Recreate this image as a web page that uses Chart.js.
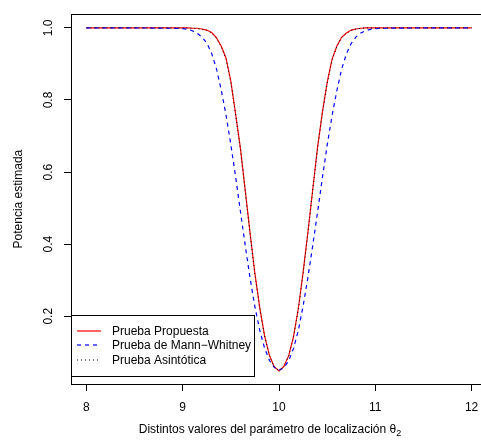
<!DOCTYPE html>
<html>
<head>
<meta charset="utf-8">
<script src="https://cdn.jsdelivr.net/npm/chart.js@4.4.0/dist/chart.umd.min.js"></script>
<style>
  html, body { margin: 0; padding: 0; overflow: hidden; background: #fff; }
  #contenedor { width: 500px; height: 442px; }
</style>
</head>
<body>
<div id="contenedor"><canvas id="potencia" width="500" height="442"></canvas></div>
<script>
// valores de theta_2 (eje x)
var theta = [8, 8.5, 8.9,
  9.00, 9.05, 9.10, 9.15, 9.20, 9.25, 9.30, 9.35, 9.40, 9.45, 9.50, 9.55, 9.60, 9.65, 9.70, 9.75, 9.80, 9.85, 9.90, 9.95, 10.00,
  10.05, 10.10, 10.15, 10.20, 10.25, 10.30, 10.35, 10.40, 10.45, 10.50, 10.55, 10.60, 10.65, 10.70, 10.75, 10.80, 10.85, 10.90, 10.95, 11.00,
  11.1, 11.5, 12];

// potencia estimada de cada prueba
var propuesta = [1, 1, 1,
  1.000, 1.000, 0.999, 0.999, 0.997, 0.994, 0.987, 0.973, 0.950, 0.916, 0.852, 0.760, 0.665, 0.548, 0.430, 0.318, 0.224, 0.146, 0.092, 0.060, 0.048,
  0.061, 0.090, 0.143, 0.220, 0.321, 0.433, 0.551, 0.668, 0.765, 0.848, 0.912, 0.949, 0.974, 0.986, 0.994, 0.997, 0.999, 1.000, 1.000, 1.000,
  1, 1, 1];

var mannWhitney = [1, 1, 0.999,
  0.998, 0.996, 0.992, 0.985, 0.975, 0.958, 0.930, 0.887, 0.828, 0.758, 0.676, 0.586, 0.490, 0.395, 0.305, 0.226, 0.161, 0.112, 0.078, 0.058, 0.050,
  0.057, 0.076, 0.110, 0.160, 0.228, 0.307, 0.396, 0.488, 0.583, 0.674, 0.755, 0.825, 0.885, 0.928, 0.957, 0.975, 0.986, 0.992, 0.996, 0.998,
  0.999, 1, 1];

var asintotica = [1, 1, 1,
  1.000, 1.000, 0.999, 0.998, 0.996, 0.993, 0.986, 0.972, 0.948, 0.913, 0.849, 0.757, 0.661, 0.545, 0.428, 0.316, 0.222, 0.145, 0.091, 0.059, 0.050,
  0.060, 0.089, 0.141, 0.218, 0.318, 0.430, 0.548, 0.664, 0.762, 0.846, 0.910, 0.948, 0.973, 0.985, 0.993, 0.997, 0.999, 1.000, 1.000, 1.000,
  1, 1, 1];

var etiquetas = ["Prueba Propuesta", "Prueba de Mann\u2212Whitney", "Prueba Asint\u00f3tica"];
var colores = ['#ff0000', '#0000ff', '#000000'];
var guiones = [[], [4, 4], [1, 3]];
var xTicks = [8, 9, 10, 11, 12];
var yTicks = [0.2, 0.4, 0.6, 0.8, 1.0];

var fuente = "'Liberation Sans', Arial, Helvetica, sans-serif";

function puntos(valores) {
  return theta.map(function (x, i) { return { x: x, y: valores[i] }; });
}

// caja del grafico, titulos de ejes y leyenda (estilo R)
var extras = {
  id: 'extras',
  afterDraw: function (chart) {
    var ctx = chart.ctx;
    var a = chart.chartArea;
    ctx.save();
    ctx.strokeStyle = '#000';
    ctx.lineWidth = 1;
    ctx.beginPath();
    ctx.moveTo(Math.round(a.left) + 0.5, Math.round(a.top) + 0.5);
    ctx.lineTo(Math.round(a.right) + 0.5, Math.round(a.top) + 0.5);
    ctx.lineTo(Math.round(a.right) + 0.5, Math.round(a.bottom) + 0.5);
    ctx.stroke();

    // titulo eje x con subindice
    ctx.fillStyle = '#000';
    ctx.textBaseline = 'alphabetic';
    var t1 = 'Distintos valores del par\u00e1metro de localizaci\u00f3n \u03b8';
    ctx.font = '12px ' + fuente;
    var w1 = ctx.measureText(t1).width;
    ctx.font = '9px ' + fuente;
    var w2 = ctx.measureText('2').width;
    var x0 = 270 - (w1 + w2) / 2;
    ctx.font = '12px ' + fuente;
    ctx.textAlign = 'left';
    ctx.fillText(t1, x0, 433);
    ctx.font = '9px ' + fuente;
    ctx.fillText('2', x0 + w1, 436);

    // titulo eje y
    ctx.font = '12px ' + fuente;
    ctx.translate(19, (a.top + a.bottom) / 2);
    ctx.rotate(-Math.PI / 2);
    ctx.textAlign = 'center';
    ctx.textBaseline = 'middle';
    ctx.fillText('Potencia estimada', 0, 0);
    ctx.restore();

    // leyenda
    ctx.save();
    var lx = Math.round(a.left) + 0.5, ly = 315.5, lw = 183, lh = 61;
    ctx.fillStyle = '#fff';
    ctx.fillRect(lx, ly, lw, lh);
    ctx.strokeStyle = '#000';
    ctx.lineWidth = 1;
    ctx.strokeRect(lx, ly, lw, lh);
    var filas = [331, 345, 360];
    for (var i = 0; i < etiquetas.length; i++) {
      ctx.beginPath();
      ctx.strokeStyle = colores[i];
      ctx.lineWidth = 1.2;
      ctx.setLineDash(guiones[i]);
      ctx.moveTo(77, filas[i]);
      ctx.lineTo(101, filas[i]);
      ctx.stroke();
      ctx.setLineDash([]);
      ctx.fillStyle = '#000';
      ctx.font = '12px ' + fuente;
      ctx.textAlign = 'left';
      ctx.textBaseline = 'middle';
      ctx.fillText(etiquetas[i], 112, filas[i] + 1);
    }
    ctx.restore();
  }
};

var chart = new Chart(document.getElementById('potencia'), {
  type: 'line',
  data: {
    datasets: [
      { label: etiquetas[0], data: puntos(propuesta), borderColor: colores[0], borderWidth: 1.2, borderDash: guiones[0], pointRadius: 0, order: 3 },
      { label: etiquetas[1], data: puntos(mannWhitney), borderColor: colores[1], borderWidth: 1.2, borderDash: guiones[1], pointRadius: 0, order: 2 },
      { label: etiquetas[2], data: puntos(asintotica), borderColor: colores[2], borderWidth: 1, borderDash: guiones[2], pointRadius: 0, order: 1 }
    ]
  },
  options: {
    responsive: false,
    animation: false,
    devicePixelRatio: 1,
    layout: { padding: { top: 13, right: 13, left: 0, bottom: 0 } },
    plugins: { legend: { display: false }, tooltip: { enabled: false } },
    scales: {
      x: {
        type: 'linear',
        min: 7.84,
        max: 12.16,
        afterBuildTicks: function (s) { s.ticks = xTicks.map(function (v) { return { value: v }; }); },
        afterFit: function (s) { s.height = 58; },
        grid: { drawOnChartArea: false, drawTicks: true, tickLength: 7, tickColor: '#000' },
        border: { display: true, color: '#000', width: 1 },
        ticks: { color: '#000', font: { family: fuente, size: 12 }, padding: 9, maxRotation: 0 }
      },
      y: {
        type: 'linear',
        min: 0.012,
        max: 1.038,
        afterBuildTicks: function (s) { s.ticks = yTicks.map(function (v) { return { value: v }; }); },
        afterFit: function (s) { s.width = 71; },
        grid: { drawOnChartArea: false, drawTicks: true, tickLength: 7, tickColor: '#000' },
        border: { display: true, color: '#000', width: 1 },
        ticks: {
          color: '#000', font: { family: fuente, size: 12 }, padding: 7,
          minRotation: 90, maxRotation: 90, crossAlign: 'center',
          callback: function (v) { return v.toFixed(1); }
        }
      }
    }
  },
  plugins: [extras]
});
</script>
</body>
</html>
